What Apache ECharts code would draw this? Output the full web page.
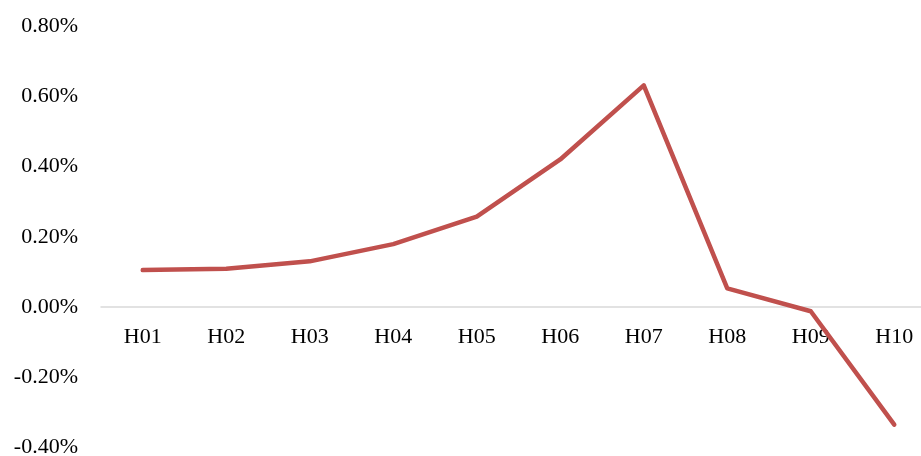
<!DOCTYPE html>
<html>
<head>
<meta charset="utf-8">
<script src="https://cdn.jsdelivr.net/npm/echarts@6/dist/echarts.min.js"></script>
<style>
  html, body { margin: 0; padding: 0; background: #fff; }
  #chart { width: 921px; height: 456px; }
</style>
</head>
<body>
<div id="chart"></div>
<script>
// Categories along the x axis
var categories = ['H01', 'H02', 'H03', 'H04', 'H05', 'H06', 'H07', 'H08', 'H09', 'H10'];
// Series values, in percent
var values = [0.105, 0.109, 0.130, 0.179, 0.257, 0.420, 0.631, 0.053, -0.012, -0.335];
// Y axis range and step, in percent
var yMin = -0.4;
var yMax = 0.8;
var yStep = 0.2;

var chart = echarts.init(document.getElementById('chart'), null, { renderer: 'canvas' });
var font = '"Liberation Serif", "Times New Roman", serif';

chart.setOption({
  animation: false,
  backgroundColor: '#ffffff',
  grid: { left: 101, right: -15, top: 26, bottom: 8.5, containLabel: false, outerBoundsMode: 'none' },
  xAxis: {
    type: 'category',
    data: categories,
    boundaryGap: true,
    axisLine: { show: true, onZero: true, lineStyle: { color: '#d9d9d9', width: 1.5 } },
    axisTick: { show: false },
    // labels sit just under the zero line, above the negative region
    axisLabel: { color: '#000', fontFamily: font, fontSize: 22, margin: -121 },
    splitLine: { show: false }
  },
  yAxis: {
    type: 'value',
    min: yMin,
    max: yMax,
    interval: yStep,
    axisLine: { show: false },
    axisTick: { show: false },
    splitLine: { show: false },
    axisLabel: {
      color: '#000',
      fontFamily: font,
      fontSize: 22,
      margin: 23,
      formatter: function (v) { return v.toFixed(2) + '%'; }
    }
  },
  series: [{
    type: 'line',
    data: values,
    symbol: 'none',
    z: 3,
    lineStyle: { color: '#c0504d', width: 4.5, join: 'round', cap: 'round' }
  }]
});
</script>
</body>
</html>
